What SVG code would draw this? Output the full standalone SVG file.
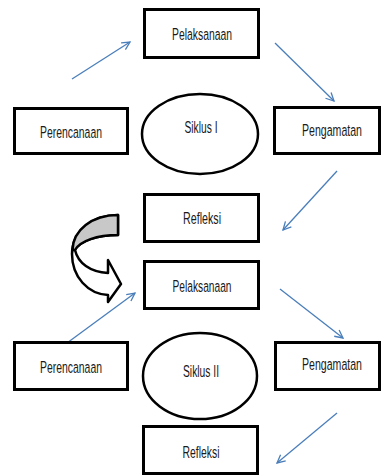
<svg xmlns="http://www.w3.org/2000/svg" width="382" height="476" viewBox="0 0 382 476">
<defs>
<style>
.box{fill:#fff;stroke:#000;stroke-width:3}
.ell{fill:#fff;stroke:#000;stroke-width:2.5}
.t{font-family:"Liberation Sans",Arial,sans-serif;font-size:16.5px;fill:#1a1a1a;text-anchor:middle}
.c{fill:none;stroke:#4a7ebb;stroke-width:1.3}
</style>
<marker id="ah" viewBox="0 0 10 10" refX="9" refY="5" markerWidth="10" markerHeight="10" markerUnits="userSpaceOnUse" orient="auto">
<path d="M1,1 L9,5 L1,9" fill="none" stroke="#4a7ebb" stroke-width="1.3"/>
</marker>
</defs>
<rect width="382" height="476" fill="#fff"/>
<g id="connectors">
<line class="c" x1="72" y1="79" x2="130" y2="42" marker-end="url(#ah)"/>
<line class="c" x1="275" y1="43" x2="334" y2="101" marker-end="url(#ah)"/>
<line class="c" x1="337" y1="171" x2="283" y2="230" marker-end="url(#ah)"/>
<line class="c" x1="67" y1="343" x2="135" y2="293" marker-end="url(#ah)"/>
<line class="c" x1="280" y1="289" x2="343" y2="338" marker-end="url(#ah)"/>
<line class="c" x1="337" y1="413" x2="277" y2="463" marker-end="url(#ah)"/>
<g id="curved-arrow" stroke="#000" stroke-width="2.5" stroke-linejoin="round">
<path d="M118,215 C92,215 72,232 72,254 C72,277 88,294 108,295 L108,302 L121,284 L108,260 L108,273 C90,272 78,263 75,250 C80,241 97,235 118,235 Z" fill="#fff"/>
<path d="M118,215 L118,235 C97,235 80,241 75,250 L72.5,250 C73,230 92,215 118,215 Z" fill="#c8c8c8"/>
</g>
</g>
<g id="pelaksanaan1"><rect class="box" x="144.5" y="9.5" width="114" height="48"/><text class="t" transform="translate(202,40) scale(0.65,1)" textLength="92.3" lengthAdjust="spacingAndGlyphs">Pelaksanaan</text></g>
<g id="perencanaan1"><rect class="box" x="14.5" y="108.5" width="113" height="45"/><text class="t" transform="translate(71,138) scale(0.65,1)" textLength="95.4" lengthAdjust="spacingAndGlyphs">Perencanaan</text></g>
<g id="siklus1"><ellipse class="ell" cx="200" cy="134" rx="58" ry="40"/><text class="t" transform="translate(201,133) scale(0.65,1)" textLength="50.8" lengthAdjust="spacingAndGlyphs">Siklus I</text></g>
<g id="pengamatan1"><rect class="box" x="274.5" y="107.5" width="105" height="46"/><text class="t" transform="translate(332,136) scale(0.65,1)" textLength="92.3" lengthAdjust="spacingAndGlyphs">Pengamatan</text></g>
<g id="refleksi1"><rect class="box" x="144.5" y="194.5" width="114" height="47"/><text class="t" transform="translate(202,224) scale(0.65,1)" textLength="58.5" lengthAdjust="spacingAndGlyphs">Refleksi</text></g>
<g id="pelaksanaan2"><rect class="box" x="144.5" y="261.5" width="114" height="47"/><text class="t" transform="translate(202,292) scale(0.65,1)" textLength="90.8" lengthAdjust="spacingAndGlyphs">Pelaksanaan</text></g>
<g id="perencanaan2"><rect class="box" x="14.5" y="342.5" width="113" height="47"/><text class="t" transform="translate(71,373) scale(0.65,1)" textLength="95.4" lengthAdjust="spacingAndGlyphs">Perencanaan</text></g>
<g id="siklus2"><ellipse class="ell" cx="200" cy="376" rx="57" ry="43"/><text class="t" transform="translate(201,377) scale(0.65,1)" textLength="55.4" lengthAdjust="spacingAndGlyphs">Siklus II</text></g>
<g id="pengamatan2"><rect class="box" x="275.5" y="342.5" width="104" height="47"/><text class="t" transform="translate(332,370) scale(0.65,1)" textLength="92.3" lengthAdjust="spacingAndGlyphs">Pengamatan</text></g>
<g id="refleksi2"><rect class="box" x="143.5" y="426.5" width="114" height="47"/><text class="t" transform="translate(201,458) scale(0.65,1)" textLength="56.9" lengthAdjust="spacingAndGlyphs">Refleksi</text></g>
</svg>
